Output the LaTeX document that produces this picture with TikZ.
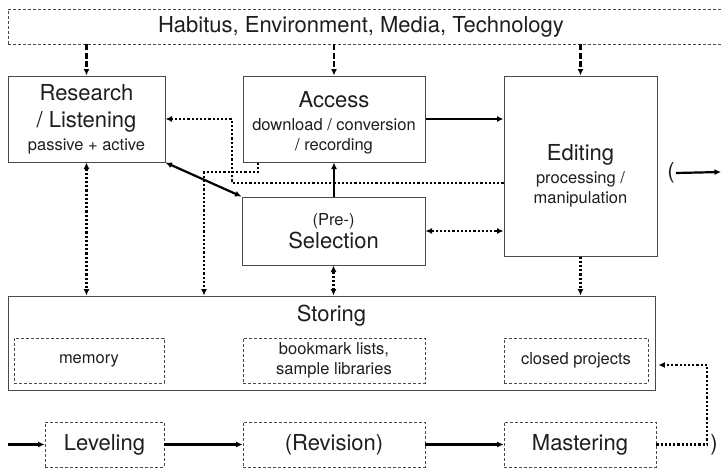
\documentclass[tikz,border=0pt]{standalone}
\usepackage{fontspec}
\setmainfont{TeX Gyre Heros}
\usetikzlibrary{arrows.meta, positioning}
\newcommand{\headfont}{\fontsize{22}{26}\selectfont}
\newcommand{\notefont}{\fontsize{16.5}{20}\selectfont}
\definecolor{ink}{HTML}{1E1E1E}
\definecolor{frame}{HTML}{4A4A4A}
\tikzset{>={Latex[length=6.5pt, width=6pt]}}
\tikzset{stage/.style={draw=frame, line width=1pt, inner sep=0pt, align=center, text=ink}}
\tikzset{part/.style={draw=frame, line width=0.8pt, dash pattern=on 3pt off 2pt, inner sep=0pt, align=center, text=ink}}
\tikzset{flow/.style={line width=2.2pt, ->}}
\tikzset{feed/.style={line width=2.2pt, dash pattern=on 6pt off 2.5pt, ->}}
\tikzset{link/.style={line width=2.5pt, dash pattern=on 2.2pt off 2pt}}

\begin{document}
\begin{tikzpicture}[x=1pt, y=-1pt]
    \useasboundingbox (0,0) rectangle (721,471);
    % context banner
    \node[part, font=\headfont, minimum width=714pt, minimum height=35pt] (env) at (365,26.5) {\hspace*{-8pt}Habitus, Environment, Media, Technology};
    % main stages
    \node[stage, font=\headfont, minimum width=157pt, minimum height=86pt] (research) at (86.5,119) {Research\\[1pt] / Listening\\[-3pt] {\notefont passive + active}};
    \node[stage, font=\notefont, minimum width=182pt, minimum height=86pt] (access) at (334,119) {{\headfont\rule{0pt}{24pt}Access}\\[3pt] download / conversion\\ / recording};
    \node[stage, font=\notefont, minimum width=153pt, minimum height=180pt] (editing) at (580.5,166) {{\headfont\rule{0pt}{36pt}Editing}\\[3pt] processing /\\ manipulation};
    \node[stage, font=\headfont, minimum width=183pt, minimum height=68pt] (selection) at (333.5,231) {{\notefont (Pre-)}\\[-3pt] Selection};
    % storage and its parts
    \node[stage, minimum width=647pt, minimum height=94pt] (storing) at (331.5,343) {};
    \node[below=9pt of storing.north, inner sep=0pt, text=ink, font=\headfont] (storelabel) {Storing};
    \node[part, font=\notefont, minimum width=150pt, minimum height=45pt] (memory) at (89,360.5) {memory};
    \node[part, font=\notefont, minimum width=182pt, minimum height=45pt] (library) at (334,360.5) {bookmark lists,\\ sample libraries};
    \node[part, font=\notefont, minimum width=144pt, minimum height=45pt] (closed) at (576,360.5) {closed projects};
    % finishing chain
    \node[part, font=\headfont, minimum width=119pt, minimum height=45pt] (leveling) at (104.5,444.5) {Leveling};
    \node[part, font=\headfont, minimum width=182pt, minimum height=45pt] (revision) at (334,444.5) {(Revision)};
    \node[part, font=\headfont, minimum width=152pt, minimum height=45pt] (mastering) at (580,444.5) {Mastering};
    \node[text=ink, font=\headfont, inner sep=1pt] (opening) at (671,173) {(};
    \node[text=ink, font=\headfont] (closing) at (714,444.5) {)};
    \coordinate (exit) at (721,172);
    \coordinate (entry) at (8,444.5);
    \coordinate (upturn) at (232,183);
    \coordinate (drop) at (258,172);
    \coordinate (sidestep) at (204,172);
    \coordinate (back) at (707,365);

    % influences from the banner
    \draw[feed] (env.south -| research) -- (research);
    \draw[feed] (env.south -| access) -- (access);
    \draw[feed] (env.south -| editing) -- (editing);
    % solid flow
    \draw[flow] (access.east) -- (access.east -| editing.west);
    \draw[flow] (selection.north -| access.south) -- (access.south);
    \draw[flow, <->] (research.south east) -- (selection.north west);
    % dotted feedback paths
    \draw[link, ->] (editing.west |- upturn) -- (upturn) |- (research.east);
    \draw[link, ->] (access.south -| drop) -- (drop) -- (sidestep) -- (sidestep |- storing.north);
    \draw[link, <->] (research.south) -- (research.south |- storing.north);
    \draw[link, <->] (selection.south) -- (selection.south |- storing.north);
    \draw[link, <->] (selection.east) -- (selection.east -| editing.west);
    \draw[link, ->] (editing.south) -- (editing.south |- storing.north);
    \draw[link, ->, shorten >=10pt] (mastering.east) -| (back) -- (closed.east |- back);
    % finishing chain
    \draw[flow] (opening.east) -- (exit);
    \draw[flow] (entry) -- (leveling);
    \draw[flow] (leveling) -- (revision);
    \draw[flow] (revision) -- (mastering);
\end{tikzpicture}
\end{document}
